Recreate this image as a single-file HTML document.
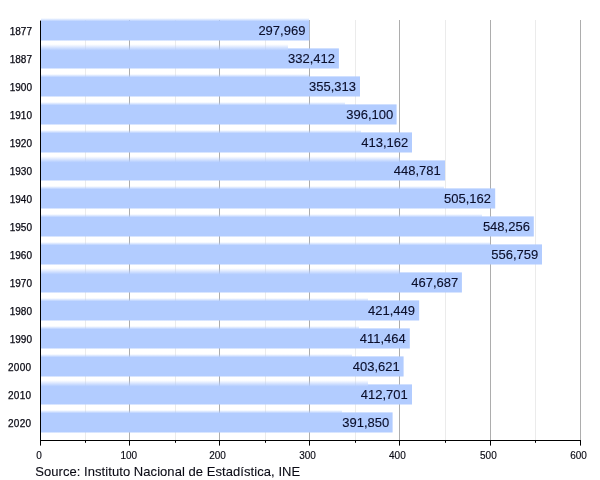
<!DOCTYPE html>
<html><head><meta charset="utf-8"><title>Chart</title>
<style>
html,body{margin:0;padding:0;background:#fff;}
body{width:600px;height:480px;overflow:hidden;position:relative;font-family:"Liberation Sans",Arial,sans-serif;}
svg{position:absolute;left:0;top:0;display:block}
text{font-family:"Liberation Sans",Arial,sans-serif;fill:#0a0a14;stroke:#0a0a14;stroke-width:0.25px}
.yl{font-size:10px;text-anchor:end}
.xl{font-size:10px;text-anchor:middle;stroke-width:0.15px}
.vl{font-size:13px;text-anchor:end;fill:#0a0e2a;stroke:#0a0e2a;stroke-width:0.12px}
.src{font-size:13px;stroke-width:0.1px}
</style></head><body>
<svg width="600" height="480" viewBox="0 0 600 480">
<defs><linearGradient id="ga" x1="0" y1="0" x2="0" y2="1"><stop offset="0.0000" stop-color="#b2ccff" stop-opacity="0.00"/><stop offset="0.0273" stop-color="#b2ccff" stop-opacity="0.06"/><stop offset="0.1367" stop-color="#b2ccff" stop-opacity="0.50"/><stop offset="0.2461" stop-color="#b2ccff" stop-opacity="0.94"/><stop offset="0.2735" stop-color="#b2ccff" stop-opacity="1.00"/></linearGradient><linearGradient id="gb" x1="0" y1="0" x2="0" y2="1"><stop offset="0.0000" stop-color="#b2ccff" stop-opacity="0.00"/><stop offset="0.0159" stop-color="#b2ccff" stop-opacity="0.06"/><stop offset="0.0796" stop-color="#b2ccff" stop-opacity="0.50"/><stop offset="0.1434" stop-color="#b2ccff" stop-opacity="0.94"/><stop offset="0.1593" stop-color="#b2ccff" stop-opacity="1.00"/></linearGradient></defs>

<rect x="85" y="20" width="1" height="420" fill="#ebebeb"/>
<rect x="175" y="20" width="1" height="420" fill="#ebebeb"/>
<rect x="265" y="20" width="1" height="420" fill="#ebebeb"/>
<rect x="355" y="20" width="1" height="420" fill="#ebebeb"/>
<rect x="445" y="20" width="1" height="420" fill="#ebebeb"/>
<rect x="535" y="20" width="1" height="420" fill="#ebebeb"/>
<rect x="129" y="20" width="1" height="420" fill="#adadad"/>
<rect x="219" y="20" width="1" height="420" fill="#adadad"/>
<rect x="309" y="20" width="1" height="420" fill="#adadad"/>
<rect x="399" y="20" width="1" height="420" fill="#adadad"/>
<rect x="490" y="20" width="1" height="420" fill="#adadad"/>
<rect x="580" y="20" width="1" height="420" fill="#adadad"/>
<rect x="41" y="17.9" width="268" height="22.6" fill="url(#gb)"/>
<rect x="309" y="20.4" width="0.3" height="20.1" fill="#b2ccff"/>
<rect x="41" y="44.0" width="247" height="24.5" fill="url(#ga)"/>
<rect x="288" y="48.4" width="50.9" height="20.1" fill="#b2ccff"/>
<rect x="41" y="73.9" width="268" height="22.6" fill="url(#gb)"/>
<rect x="309" y="76.4" width="51.0" height="20.1" fill="#b2ccff"/>
<rect x="41" y="101.9" width="304" height="22.6" fill="url(#gb)"/>
<rect x="345" y="104.4" width="51.6" height="20.1" fill="#b2ccff"/>
<rect x="41" y="129.9" width="320" height="22.6" fill="url(#gb)"/>
<rect x="361" y="132.4" width="51.0" height="20.1" fill="#b2ccff"/>
<rect x="41" y="156.0" width="359" height="24.5" fill="url(#ga)"/>
<rect x="400" y="160.4" width="45.0" height="20.1" fill="#b2ccff"/>
<rect x="41" y="185.9" width="403" height="22.6" fill="url(#gb)"/>
<rect x="444" y="188.4" width="51.2" height="20.1" fill="#b2ccff"/>
<rect x="41" y="213.9" width="441" height="22.6" fill="url(#gb)"/>
<rect x="482" y="216.4" width="51.8" height="20.1" fill="#b2ccff"/>
<rect x="41" y="241.9" width="449" height="22.6" fill="url(#gb)"/>
<rect x="490" y="244.4" width="52.0" height="20.1" fill="#b2ccff"/>
<rect x="41" y="268.0" width="359" height="24.5" fill="url(#ga)"/>
<rect x="400" y="272.4" width="61.9" height="20.1" fill="#b2ccff"/>
<rect x="41" y="297.9" width="327" height="22.6" fill="url(#gb)"/>
<rect x="368" y="300.4" width="51.2" height="20.1" fill="#b2ccff"/>
<rect x="41" y="325.9" width="318" height="22.6" fill="url(#gb)"/>
<rect x="359" y="328.4" width="50.8" height="20.1" fill="#b2ccff"/>
<rect x="41" y="353.9" width="311" height="22.6" fill="url(#gb)"/>
<rect x="352" y="356.4" width="51.6" height="20.1" fill="#b2ccff"/>
<rect x="41" y="380.0" width="327" height="24.5" fill="url(#ga)"/>
<rect x="368" y="384.4" width="44.0" height="20.1" fill="#b2ccff"/>
<rect x="41" y="409.9" width="301" height="22.6" fill="url(#gb)"/>
<rect x="342" y="412.4" width="50.6" height="20.1" fill="#b2ccff"/>
<rect x="40" y="20.6" width="1" height="425" fill="#000"/>
<rect x="40" y="440" width="541" height="1" fill="#000"/>
<rect x="129" y="440" width="1" height="5.6" fill="#000"/>
<rect x="219" y="440" width="1" height="5.6" fill="#000"/>
<rect x="309" y="440" width="1" height="5.6" fill="#000"/>
<rect x="399" y="440" width="1" height="5.6" fill="#000"/>
<rect x="490" y="440" width="1" height="5.6" fill="#000"/>
<rect x="580" y="440" width="1" height="5.6" fill="#000"/>
<rect x="85" y="440" width="1" height="2.8" fill="#000"/>
<rect x="175" y="440" width="1" height="2.8" fill="#000"/>
<rect x="265" y="440" width="1" height="2.8" fill="#000"/>
<rect x="355" y="440" width="1" height="2.8" fill="#000"/>
<rect x="445" y="440" width="1" height="2.8" fill="#000"/>
<rect x="535" y="440" width="1" height="2.8" fill="#000"/>
<text class="yl" x="32.00" y="35">1877</text>
<text class="vl" x="305.4" y="35.2">297,969</text>
<text class="yl" x="32.00" y="63">1887</text>
<text class="vl" x="335.0" y="63.2">332,412</text>
<text class="yl" x="32.00" y="91">1900</text>
<text class="vl" x="356.0" y="91.2">355,313</text>
<text class="yl" x="32.00" y="119">1910</text>
<text class="vl" x="393.2" y="119.2">396,100</text>
<text class="yl" x="32.00" y="147">1920</text>
<text class="vl" x="408.2" y="147.2">413,162</text>
<text class="yl" x="32.00" y="175">1930</text>
<text class="vl" x="440.7" y="175.2">448,781</text>
<text class="yl" x="32.00" y="203">1940</text>
<text class="vl" x="491.0" y="203.2">505,162</text>
<text class="yl" x="32.00" y="231">1950</text>
<text class="vl" x="529.9" y="231.2">548,256</text>
<text class="yl" x="32.00" y="259">1960</text>
<text class="vl" x="538.2" y="259.2">556,759</text>
<text class="yl" x="32.00" y="287">1970</text>
<text class="vl" x="458.2" y="287.2">467,687</text>
<text class="yl" x="32.00" y="315">1980</text>
<text class="vl" x="415.0" y="315.2">421,449</text>
<text class="yl" x="32.00" y="343">1990</text>
<text class="vl" x="405.7" y="343.2">411,464</text>
<text class="yl" x="31.46" y="371" letter-spacing="0.33">2000</text>
<text class="vl" x="399.8" y="371.2">403,621</text>
<text class="yl" x="31.46" y="399" letter-spacing="0.33">2010</text>
<text class="vl" x="407.7" y="399.2">412,701</text>
<text class="yl" x="31.46" y="427" letter-spacing="0.33">2020</text>
<text class="vl" x="389.2" y="427.2">391,850</text>
<text class="xl" x="39.0" y="459">0</text>
<text class="xl" x="128.8" y="459">100</text>
<text class="xl" x="217.5" y="459">200</text>
<text class="xl" x="307.5" y="459">300</text>
<text class="xl" x="397.4" y="459">400</text>
<text class="xl" x="488.4" y="459">500</text>
<text class="xl" x="578.5" y="459">600</text>
<text class="src" x="35.2" y="475.8" textLength="265" lengthAdjust="spacing">Source: Instituto Nacional de Estadística, INE</text>
</svg></body></html>
